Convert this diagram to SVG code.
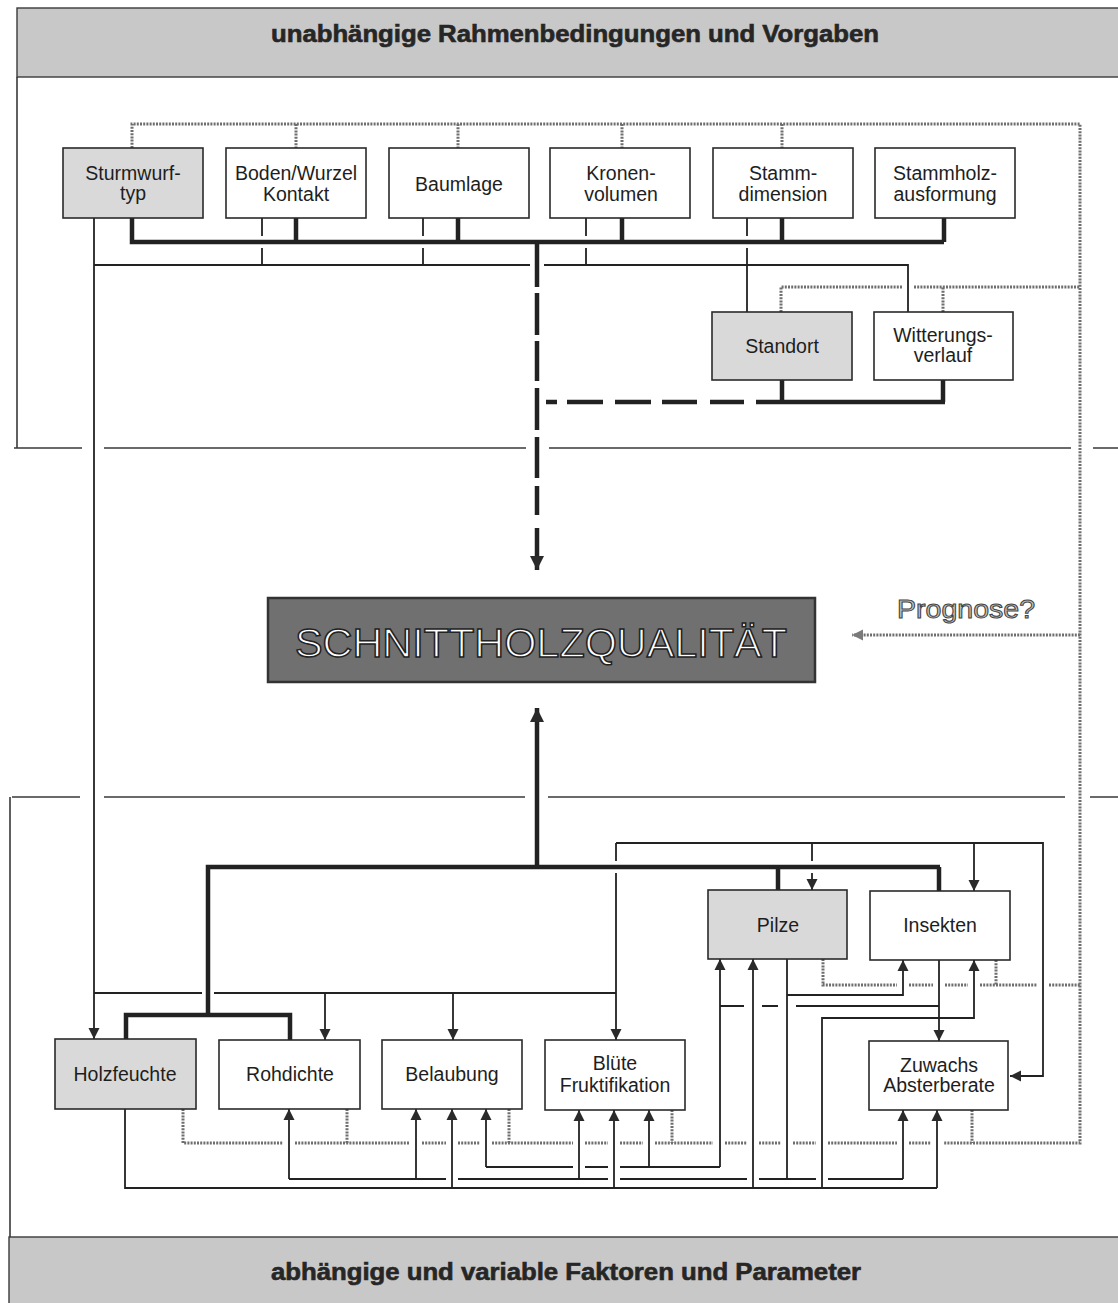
<svg xmlns="http://www.w3.org/2000/svg" width="1118" height="1303" viewBox="0 0 1118 1303">
<defs>
<marker id="ah" viewBox="0 0 10 10" refX="10" refY="5" markerWidth="11" markerHeight="12" markerUnits="userSpaceOnUse" orient="auto"><path d="M0,0 L10,5 L0,10 z" fill="#2a2a2a"/></marker>
<marker id="ahT" viewBox="0 0 10 10" refX="10" refY="5" markerWidth="14" markerHeight="17" markerUnits="userSpaceOnUse" orient="auto"><path d="M0,0 L10,5 L0,10 z" fill="#2a2a2a"/></marker>
<marker id="ahG" viewBox="0 0 10 10" refX="10" refY="5" markerWidth="11" markerHeight="12" markerUnits="userSpaceOnUse" orient="auto"><path d="M0,0 L10,5 L0,10 z" fill="#7a7a7a"/></marker>
</defs>
<style>
.frame{fill:none;stroke:#3a3a3a;stroke-width:1.6}
.band{fill:#c8c8c8;stroke:#3a3a3a;stroke-width:1.4}
.band-t{font-family:"Liberation Sans",Arial,sans-serif;font-weight:bold;font-size:23px;fill:#262626;stroke:#262626;stroke-width:0.6}
.box{fill:#ffffff;stroke:#2a2a2a;stroke-width:1.6}
.gbox{fill:#d9d9d9;stroke:#2a2a2a;stroke-width:1.6}
.lbl{font-family:"Liberation Sans",Arial,sans-serif;font-size:19.5px;fill:#1e1e1e;text-anchor:middle}
.thin{fill:none;stroke:#222;stroke-width:1.8}
.thick{fill:none;stroke:#222;stroke-width:4.5}
.dash{fill:none;stroke:#222;stroke-width:4.5}
.gray{fill:none;stroke:#6e6e6e;stroke-width:3;stroke-dasharray:2 1.2}
</style>
<rect width="1118" height="1303" fill="#ffffff"/>

<g id="frames">
<rect class="band" x="17" y="8" width="1110" height="69"/>
<text class="band-t" x="575" y="42" text-anchor="middle" textLength="608" lengthAdjust="spacingAndGlyphs">unabhängige Rahmenbedingungen und Vorgaben</text>
<path class="frame" d="M17 77 V448 M14 448 H82 M104 448 H526 M549 448 H1071 M1093 448 H1118"/>
<path class="frame" d="M12 797 H80 M104 797 H525 M548 797 H1065 M1090 797 H1118 M10 797 V1237"/>
<rect class="band" x="9" y="1237" width="1115" height="70"/>
<text class="band-t" x="566" y="1280" text-anchor="middle" textLength="590" lengthAdjust="spacingAndGlyphs">abhängige und variable Faktoren und Parameter</text>
</g>

<g id="connectors">
<!-- gray influence lines -->
<path class="gray" d="M132 148 V124 H1080 V1143 H943"/>
<path class="gray" d="M296 124 V148 M458 124 V148 M622 124 V148 M782 124 V148"/>
<path class="gray" d="M781 312 V287 H902 M914 287 H1080 M943 312 V287"/>
<path class="gray" d="M1080 635 H852" marker-end="url(#ahG)"/>
<path class="gray" d="M183 1109 V1143 H283 M295 1143 H410 M422 1143 H446 M458 1143 H480 M492 1143 H573 M585 1143 H608 M620 1143 H643 M655 1143 H713 M725 1143 H747 M759 1143 H781 M793 1143 H816 M828 1143 H897 M909 1143 H931"/>
<path class="gray" d="M347 1109 V1143 M509 1109 V1143 M672 1110 V1143 M972 1110 V1143"/>
<path class="gray" d="M823 959 V985 H897 M909 985 H933 M945 985 H968 M980 985 H1037 M1049 985 H1080 M996 960 V985"/>

<!-- upper thick -->
<path class="thick" d="M132 218 V242 H944 M296 218 V242 M458 218 V242 M622 218 V242 M782 218 V242 M944 218 V242"/>
<path class="thick" d="M782 380 V402 M756 402 H945 M943 380 V402"/>
<path class="dash" d="M546 402 H557 M567 402 H603 M615 402 H651 M662 402 H697 M710 402 H744"/>
<path class="dash" d="M537 240 V287 M537 293 V335 M537 341 V381 M537 388 V430 M537 437 V478 M537 486 V515 M537 528 V570" marker-end="url(#ahT)"/>

<!-- upper thin -->
<path class="thin" d="M94 218 V1039" marker-end="url(#ah)"/>
<path class="thin" d="M94 265 H530 M544 265 H908 V312"/>
<path class="thin" d="M262 218 V236 M262 248 V265 M423 218 V236 M423 248 V265 M586 218 V236 M586 248 V265 M747 218 V236 M747 248 V312"/>

<!-- lower thick -->
<path class="thick" d="M537 867 V708" marker-end="url(#ahT)"/>
<path class="thick" d="M208 1015 V867 H940 M778 867 V890 M939 867 V891"/>
<path class="thick" d="M126 1039 V1015 H290 V1040"/>

<!-- lower thin -->
<path class="thin" d="M94 993 H202 M214 993 H616"/>
<path class="thin" d="M325 993 V1040" marker-end="url(#ah)"/>
<path class="thin" d="M453 993 V1040" marker-end="url(#ah)"/>
<path class="thin" d="M616 843 V861 M616 873 V1040" marker-end="url(#ah)"/>
<path class="thin" d="M616 843 H1043 V1076 H1010" marker-end="url(#ah)"/>
<path class="thin" d="M812 843 V861 M812 873 V890" marker-end="url(#ah)"/>
<path class="thin" d="M974 843 V891" marker-end="url(#ah)"/>

<path class="thin" d="M787 959 V1179"/>
<path class="thin" d="M787 995 H903 V960" marker-end="url(#ah)"/>
<path class="thin" d="M939 960 V1041" marker-end="url(#ah)"/>
<path class="thin" d="M939 1006 H796 M778 1006 H762 M744 1006 H720"/>
<path class="thin" d="M720 1167 V959" marker-end="url(#ah)"/>
<path class="thin" d="M822 1188 V1018 H974 V960" marker-end="url(#ah)"/>

<path class="thin" d="M486 1167 H573 M585 1167 H608 M620 1167 H720"/>
<path class="thin" d="M486 1167 V1109" marker-end="url(#ah)"/>
<path class="thin" d="M649 1167 V1110" marker-end="url(#ah)"/>

<path class="thin" d="M289 1179 H446 M458 1179 H608 M620 1179 H747 M759 1179 H816 M828 1179 H903"/>
<path class="thin" d="M289 1179 V1109" marker-end="url(#ah)"/>
<path class="thin" d="M416 1179 V1109" marker-end="url(#ah)"/>
<path class="thin" d="M579 1179 V1110" marker-end="url(#ah)"/>
<path class="thin" d="M903 1179 V1110" marker-end="url(#ah)"/>

<path class="thin" d="M125 1109 V1188 H937"/>
<path class="thin" d="M452 1188 V1109" marker-end="url(#ah)"/>
<path class="thin" d="M614 1188 V1110" marker-end="url(#ah)"/>
<path class="thin" d="M753 1188 V959" marker-end="url(#ah)"/>
<path class="thin" d="M937 1188 V1110" marker-end="url(#ah)"/>
</g>

<g id="n-sturmwurf"><rect class="gbox" x="63" y="148" width="140" height="70"/><text class="lbl" x="133" y="180">Sturmwurf-</text><text class="lbl" x="133" y="200">typ</text></g>
<g id="n-boden"><rect class="box" x="226" y="148" width="140" height="70"/><text class="lbl" x="296" y="180">Boden/Wurzel</text><text class="lbl" x="296" y="201">Kontakt</text></g>
<g id="n-baumlage"><rect class="box" x="389" y="148" width="140" height="70"/><text class="lbl" x="459" y="191">Baumlage</text></g>
<g id="n-kronen"><rect class="box" x="550" y="148" width="140" height="70"/><text class="lbl" x="621" y="180">Kronen-</text><text class="lbl" x="621" y="201">volumen</text></g>
<g id="n-stammdim"><rect class="box" x="713" y="148" width="140" height="70"/><text class="lbl" x="783" y="180">Stamm-</text><text class="lbl" x="783" y="201">dimension</text></g>
<g id="n-stammholz"><rect class="box" x="875" y="148" width="140" height="70"/><text class="lbl" x="945" y="180">Stammholz-</text><text class="lbl" x="945" y="201">ausformung</text></g>
<g id="n-standort"><rect class="gbox" x="712" y="312" width="140" height="68"/><text class="lbl" x="782" y="353">Standort</text></g>
<g id="n-witterung"><rect class="box" x="874" y="312" width="139" height="68"/><text class="lbl" x="943" y="342">Witterungs-</text><text class="lbl" x="943" y="362">verlauf</text></g>

<g id="n-schnittholz"><rect x="268" y="598" width="547" height="84" fill="#707070" stroke="#333" stroke-width="2.5"/><text x="295" y="657" font-family="'Liberation Sans',Arial,sans-serif" font-size="40" fill="#ffffff" stroke="#222" stroke-width="1.5" textLength="492" lengthAdjust="spacingAndGlyphs">SCHNITTHOLZQUALITÄT</text></g>
<g id="n-prognose"><text x="897" y="618" font-family="'Liberation Sans',Arial,sans-serif" font-size="26" fill="#c4c4c4" stroke="#444" stroke-width="1" textLength="138" lengthAdjust="spacingAndGlyphs">Prognose?</text></g>

<g id="n-holzfeuchte"><rect class="gbox" x="55" y="1039" width="141" height="70"/><text class="lbl" x="125" y="1081">Holzfeuchte</text></g>
<g id="n-rohdichte"><rect class="box" x="219" y="1040" width="141" height="69"/><text class="lbl" x="290" y="1081">Rohdichte</text></g>
<g id="n-belaubung"><rect class="box" x="382" y="1040" width="140" height="69"/><text class="lbl" x="452" y="1081">Belaubung</text></g>
<g id="n-bluete"><rect class="box" x="545" y="1040" width="140" height="70"/><text class="lbl" x="615" y="1070">Blüte</text><text class="lbl" x="615" y="1092">Fruktifikation</text></g>
<g id="n-pilze"><rect class="gbox" x="708" y="890" width="139" height="69"/><text class="lbl" x="778" y="932">Pilze</text></g>
<g id="n-insekten"><rect class="box" x="870" y="891" width="140" height="69"/><text class="lbl" x="940" y="932">Insekten</text></g>
<g id="n-zuwachs"><rect class="box" x="869" y="1041" width="139" height="69"/><text class="lbl" x="939" y="1072">Zuwachs</text><text class="lbl" x="939" y="1092">Absterberate</text></g>
</svg>
